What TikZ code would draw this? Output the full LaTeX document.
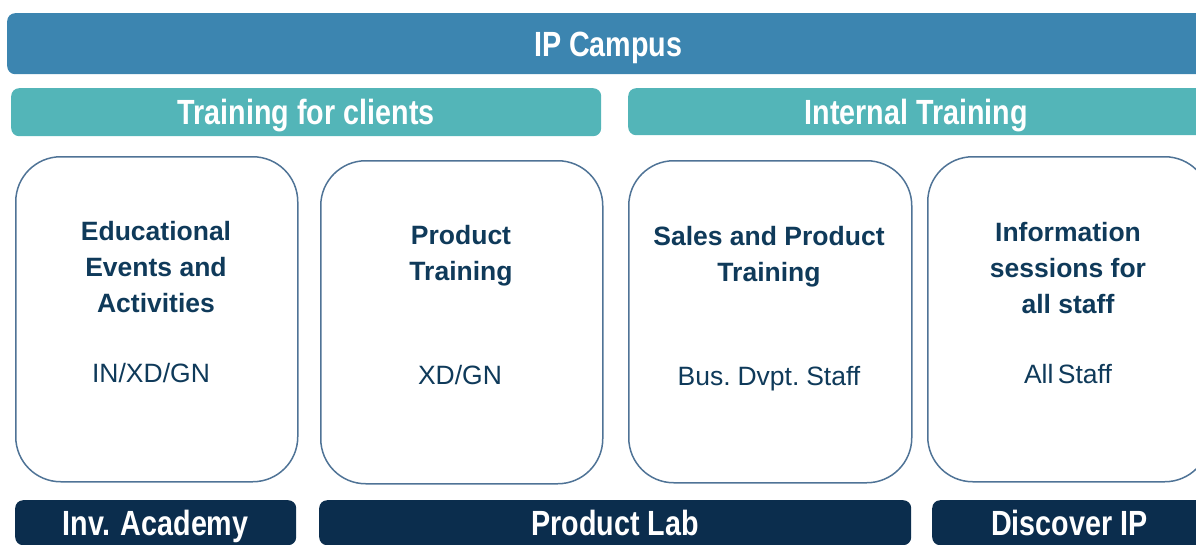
\documentclass[tikz,border=0pt]{standalone}
\usepackage{fontspec}
\setmainfont{Liberation Sans}
\newfontfamily\hdrfont{Liberation Sans}[FakeStretch=0.82]
\newfontfamily\subfont{Liberation Sans}[WordSpace=0.6]
\definecolor{campusblue}{HTML}{3C85B0}
\definecolor{tealbar}{HTML}{53B5B8}
\definecolor{navybar}{HTML}{0B2D4D}
\definecolor{boxline}{HTML}{4F7396}
\definecolor{txtnavy}{HTML}{0F3A5A}
\tikzset{
  hbar/.style={anchor=north west, rounded corners=8pt, inner sep=0pt, text=white,
    font=\hdrfont\bfseries\fontsize{35}{40}\selectfont, text height=25pt, text depth=0pt},
  cardbox/.style={anchor=north west, draw=boxline, line width=1.5pt, rounded corners=45pt, fill=white, inner sep=0pt},
  cardtitle/.style={align=center, text=txtnavy, font=\bfseries\fontsize{26.5}{36}\selectfont, inner sep=0pt},
  cardsub/.style={text=txtnavy, font=\subfont\fontsize{26.5}{32}\selectfont, inner sep=0pt, text height=19.5pt, text depth=0pt}
}
\begin{document}
\begin{tikzpicture}[x=1pt,y=-1pt]
\useasboundingbox (0,0) rectangle (1196,544);
\clip (0,0) rectangle (1196,544);
% top bar
\node[hbar, fill=campusblue, minimum width=1202pt, minimum height=61pt] (campus) at (7,13) {IP Campus};
% second level
\node[hbar, fill=tealbar, minimum width=590pt, minimum height=48pt] (clients) at (11,88) {Training for clients};
\node[hbar, fill=tealbar, minimum width=576pt, minimum height=47pt] (internal) at (628,88) {Internal Training};
% cards
\node[cardbox, minimum width=282pt, minimum height=325pt] (c1) at (15,156) {};
\node[cardbox, minimum width=282pt, minimum height=323pt] (c2) at (320,160) {};
\node[cardbox, minimum width=283pt, minimum height=322pt] (c3) at (628,160) {};
\node[cardbox, minimum width=282pt, minimum height=325pt] (c4) at (927,156) {};
% card titles
\node[cardtitle] (t1) at (156,267) {Educational\\Events and\\Activities};
\node[cardtitle] (t2) at (461,256) {Product\\Training};
\node[cardtitle] (t3) at (769,257) {Sales and Product\\Training};
\node[cardtitle] (t4) at (1068,268) {Information\\sessions for\\all staff};
% card subtitles
\node[cardsub] (s1) at (151,373) {IN/XD/GN};
\node[cardsub] (s2) at (460,375) {XD/GN};
\node[cardsub] (s3) at (769,376) {Bus. Dvpt. Staff};
\node[cardsub] (s4) at (1068,374) {All Staff};
% bottom bars
\node[hbar, fill=navybar, minimum width=281pt, minimum height=45pt] (academy) at (15,500) {Inv. Academy};
\node[hbar, fill=navybar, minimum width=592pt, minimum height=45pt] (lab) at (319,500) {Product Lab};
\node[hbar, fill=navybar, minimum width=274pt, minimum height=45pt] (discover) at (932,500) {Discover IP};
\end{tikzpicture}
\end{document}
